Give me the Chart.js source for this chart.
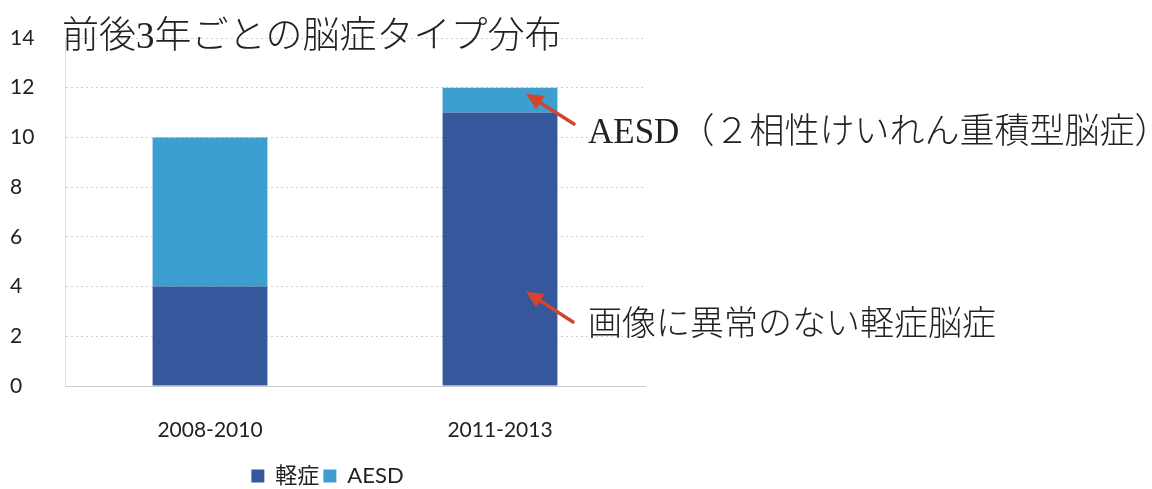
<!DOCTYPE html>
<html>
<head>
<meta charset="utf-8">
<script src="https://cdn.jsdelivr.net/npm/chart.js@4/dist/chart.umd.min.js"></script>
<style>
  html, body { margin: 0; padding: 0; background: #fff; }
  #wrap { width: 1152px; height: 489px; }
</style>
</head>
<body>
<div id="wrap"><canvas id="c"></canvas></div>
<script>
// periods and counts per type
const periods = ['2008-2010', '2011-2013'];
const mildCounts = [4, 11];
const aesdCounts = [6, 1];
const seriesNames = ['軽症', 'AESD'];
const yTicks = [0, 2, 4, 6, 8, 10, 12, 14];

const titleText = '前後3年ごとの脳症タイプ分布';
const noteAesd = 'AESD（２相性けいれん重積型脳症）';
const noteMild = '画像に異常のない軽症脳症';

const DARK = '#35579c';
const LIGHT = '#3c9fcf';
const SANS = 'Lato, "Noto Sans CJK JP", sans-serif';
const SERIF = '"Liberation Serif", "Noto Sans CJK JP", serif';

// arrow from text to bar
function drawArrow(ctx, x1, y1, x2, y2){
    let ang = Math.atan2(y2 - y1, x2 - x1);
    ctx.save();
    ctx.strokeStyle = '#d2452f';
    ctx.fillStyle = '#d2452f';
    ctx.lineWidth = 3.5;
    ctx.lineCap = 'round';
    ctx.beginPath();
    ctx.moveTo(x1, y1);
    ctx.lineTo(x2 - 10 * Math.cos(ang), y2 - 10 * Math.sin(ang));
    ctx.stroke();
    ctx.beginPath();
    ctx.moveTo(x2, y2);
    ctx.lineTo(x2 - 17 * Math.cos(ang) + 8 * Math.sin(ang), y2 - 17 * Math.sin(ang) - 8 * Math.cos(ang));
    ctx.lineTo(x2 - 17 * Math.cos(ang) - 8 * Math.sin(ang), y2 - 17 * Math.sin(ang) + 8 * Math.cos(ang));
    ctx.closePath();
    ctx.fill();
    ctx.restore();
};

const notes = {
    id: 'notes',
    afterDraw(chart){
        let ctx = chart.ctx;
        let xs = chart.scales.x;
        let ys = chart.scales.y;
        ctx.save();
        ctx.fillStyle = '#222';
        ctx.textBaseline = 'middle';
        ctx.textAlign = 'left';
        ctx.font = '300 37px ' + SERIF;
        ctx.fillText(titleText, 62, 38);
        ctx.font = '300 35px ' + SERIF;
        ctx.fillText(noteAesd, 588, 134);
        ctx.font = '300 34px ' + SERIF;
        ctx.fillText(noteMild, 588, 326);
        ctx.restore();

        let bx = xs.getPixelForValue(1) + 26;
        drawArrow(ctx, 574, 124, bx, ys.getPixelForValue(mildCounts[1] + aesdCounts[1]) + 6);
        drawArrow(ctx, 573, 322, bx, ys.getPixelForValue(3.8));
    }
};

new Chart(document.getElementById('c'), {
    type: 'bar',
    data: {
        labels: periods,
        datasets: [{
            label: seriesNames[0],
            data: mildCounts,
            backgroundColor: DARK,
            categoryPercentage: 0.44,
            barPercentage: 0.9
        }, {
            label: seriesNames[1],
            data: aesdCounts,
            backgroundColor: LIGHT,
            categoryPercentage: 0.44,
            barPercentage: 0.9
        }]
    },
    options: {
        responsive: true,
        maintainAspectRatio: false,
        animation: false,
        layout: {
            padding: { top: 38, right: 507, left: 10, bottom: -8 }
        },
        plugins: {
            legend: {
                position: 'bottom',
                labels: {
                    font: { family: SANS, size: 22 },
                    color: '#222',
                    boxWidth: 13,
                    boxHeight: 13,
                    padding: 4
                }
            },
            tooltip: { enabled: false }
        },
        scales: {
            x: {
                stacked: true,
                grid: { display: false },
                border: { color: '#ccc', dash: [2, 2] },
                ticks: {
                    font: { family: SANS, size: 21 },
                    color: '#222',
                    padding: 24
                },
                afterFit(scale){ scale.height = 75; }
            },
            y: {
                stacked: true,
                min: 0,
                max: 14,
                afterBuildTicks(scale){
                    scale.ticks = yTicks.map(v => ({ value: v }));
                },
                grid: { color: '#cfcfcf', drawTicks: false },
                border: { display: true, color: '#ddd', dash: [2, 3] },
                ticks: {
                    font: { family: SANS, size: 21 },
                    color: '#222',
                    crossAlign: 'far',
                    padding: 10
                },
                afterFit(scale){ scale.width = 55; }
            }
        }
    },
    plugins: [notes]
});
</script>
</body>
</html>
